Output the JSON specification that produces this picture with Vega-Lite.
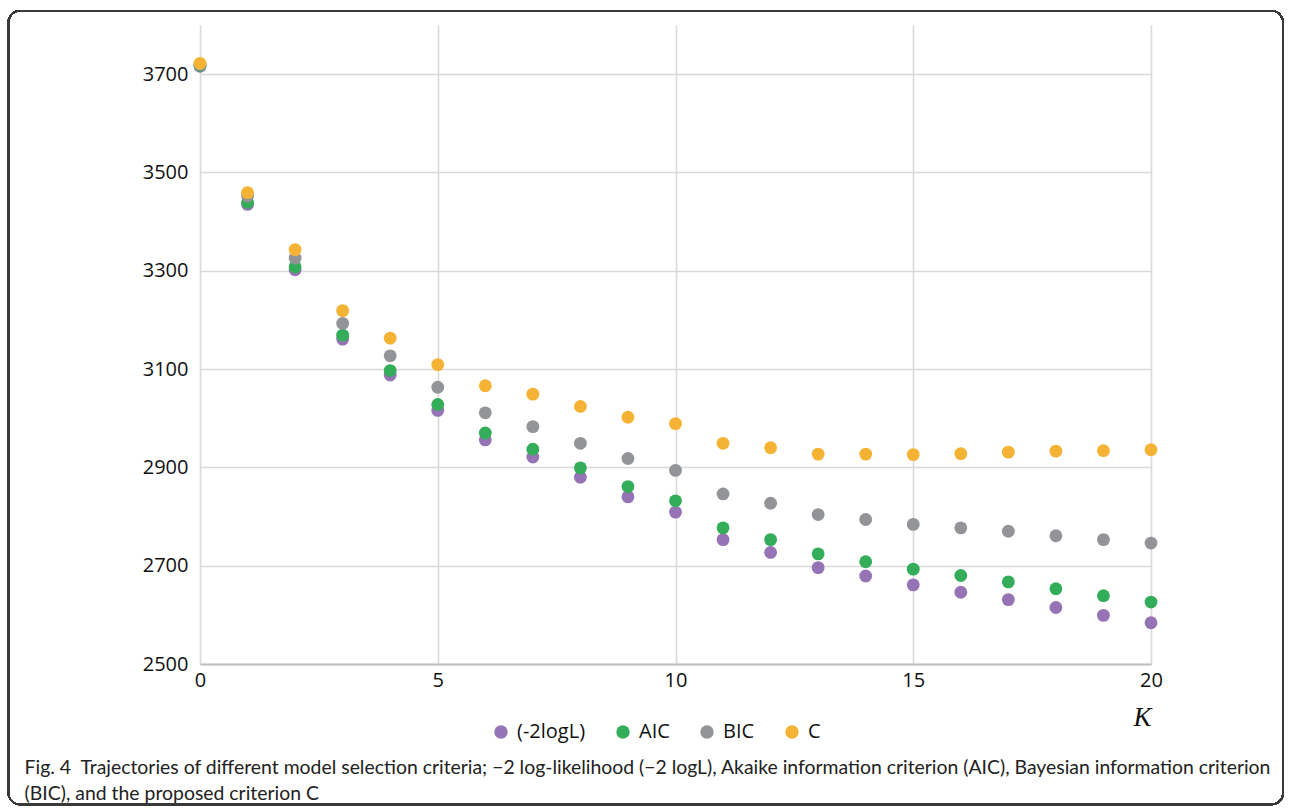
{
  "$schema": "https://vega.github.io/schema/vega-lite/v6.json",
  "width": 951,
  "height": 639,
  "autosize": {"type": "none"},
  "padding": {"left": 200, "top": 25, "right": 140, "bottom": 146},
  "background": "white",
  "config": {"view": {"stroke": null}, "font": "Open Sans"},
  "title": {
    "text": ["Fig. 4\u00a0\u00a0Trajectories of different model selection criteria; −2 log-likelihood (−2 logL), Akaike information criterion (AIC), Bayesian information criterion", "(BIC), and the proposed criterion C"],
    "orient": "bottom",
    "anchor": "start",
    "frame": "bounds",
    "font": "Lato",
    "fontSize": 19.4,
    "fontWeight": "normal",
    "color": "#222222",
    "lineHeight": 25.5,
    "offset": -46,
    "dx": 17
  },
  "data": {"values": [
    {"K":0,"criterion":"(-2logL)","value":3716},{"K":1,"criterion":"(-2logL)","value":3435},{"K":2,"criterion":"(-2logL)","value":3302},{"K":3,"criterion":"(-2logL)","value":3161},{"K":4,"criterion":"(-2logL)","value":3088},{"K":5,"criterion":"(-2logL)","value":3016},{"K":6,"criterion":"(-2logL)","value":2956},{"K":7,"criterion":"(-2logL)","value":2921},{"K":8,"criterion":"(-2logL)","value":2880},{"K":9,"criterion":"(-2logL)","value":2840},{"K":10,"criterion":"(-2logL)","value":2809},{"K":11,"criterion":"(-2logL)","value":2753},{"K":12,"criterion":"(-2logL)","value":2727},{"K":13,"criterion":"(-2logL)","value":2696},{"K":14,"criterion":"(-2logL)","value":2679},{"K":15,"criterion":"(-2logL)","value":2661},{"K":16,"criterion":"(-2logL)","value":2646},{"K":17,"criterion":"(-2logL)","value":2631},{"K":18,"criterion":"(-2logL)","value":2615},{"K":19,"criterion":"(-2logL)","value":2599},{"K":20,"criterion":"(-2logL)","value":2584},
    {"K":0,"criterion":"AIC","value":3718},{"K":1,"criterion":"AIC","value":3439},{"K":2,"criterion":"AIC","value":3308},{"K":3,"criterion":"AIC","value":3169},{"K":4,"criterion":"AIC","value":3097},{"K":5,"criterion":"AIC","value":3028},{"K":6,"criterion":"AIC","value":2970},{"K":7,"criterion":"AIC","value":2937},{"K":8,"criterion":"AIC","value":2899},{"K":9,"criterion":"AIC","value":2861},{"K":10,"criterion":"AIC","value":2832},{"K":11,"criterion":"AIC","value":2777},{"K":12,"criterion":"AIC","value":2753},{"K":13,"criterion":"AIC","value":2724},{"K":14,"criterion":"AIC","value":2708},{"K":15,"criterion":"AIC","value":2693},{"K":16,"criterion":"AIC","value":2680},{"K":17,"criterion":"AIC","value":2667},{"K":18,"criterion":"AIC","value":2653},{"K":19,"criterion":"AIC","value":2639},{"K":20,"criterion":"AIC","value":2626},
    {"K":0,"criterion":"BIC","value":3720},{"K":1,"criterion":"BIC","value":3452},{"K":2,"criterion":"BIC","value":3326},{"K":3,"criterion":"BIC","value":3193},{"K":4,"criterion":"BIC","value":3127},{"K":5,"criterion":"BIC","value":3063},{"K":6,"criterion":"BIC","value":3011},{"K":7,"criterion":"BIC","value":2983},{"K":8,"criterion":"BIC","value":2949},{"K":9,"criterion":"BIC","value":2918},{"K":10,"criterion":"BIC","value":2894},{"K":11,"criterion":"BIC","value":2846},{"K":12,"criterion":"BIC","value":2827},{"K":13,"criterion":"BIC","value":2804},{"K":14,"criterion":"BIC","value":2794},{"K":15,"criterion":"BIC","value":2784},{"K":16,"criterion":"BIC","value":2777},{"K":17,"criterion":"BIC","value":2770},{"K":18,"criterion":"BIC","value":2761},{"K":19,"criterion":"BIC","value":2753},{"K":20,"criterion":"BIC","value":2746},
    {"K":0,"criterion":"C","value":3722},{"K":1,"criterion":"C","value":3459},{"K":2,"criterion":"C","value":3343},{"K":3,"criterion":"C","value":3219},{"K":4,"criterion":"C","value":3163},{"K":5,"criterion":"C","value":3109},{"K":6,"criterion":"C","value":3066},{"K":7,"criterion":"C","value":3049},{"K":8,"criterion":"C","value":3024},{"K":9,"criterion":"C","value":3002},{"K":10,"criterion":"C","value":2989},{"K":11,"criterion":"C","value":2949},{"K":12,"criterion":"C","value":2940},{"K":13,"criterion":"C","value":2927},{"K":14,"criterion":"C","value":2927},{"K":15,"criterion":"C","value":2926},{"K":16,"criterion":"C","value":2928},{"K":17,"criterion":"C","value":2931},{"K":18,"criterion":"C","value":2933},{"K":19,"criterion":"C","value":2934},{"K":20,"criterion":"C","value":2936}
  ]},
  "layer": [
    {
      "mark": {"type": "circle", "size": 165, "opacity": 1},
      "encoding": {
        "x": {"field": "K", "type": "quantitative",
          "scale": {"domain": [0, 20], "nice": false, "zero": false},
          "axis": {"values": [0, 5, 10, 15, 20], "grid": true, "gridColor": "#d9d9d9", "gridWidth": 1.6,
            "ticks": false, "domain": true, "domainColor": "#bfbfbf", "domainWidth": 2,
            "labelFontSize": 20, "labelColor": "#111111", "labelPadding": 6, "labelFlush": false, "labelBound": false, "labelOverlap": false,
            "title": "K", "titleFont": "Liberation Serif", "titleFontStyle": "italic", "titleFontWeight": "normal",
            "titleFontSize": 27, "titleColor": "#111111", "titleAnchor": "end", "titlePadding": 14}},
        "y": {"field": "value", "type": "quantitative",
          "scale": {"domain": [2500, 3800], "nice": false, "zero": false},
          "axis": {"values": [2500, 2700, 2900, 3100, 3300, 3500, 3700], "format": "d", "grid": true, "gridColor": "#d9d9d9", "gridWidth": 1.6,
            "ticks": false, "domain": false, "labelFontSize": 20, "labelColor": "#111111", "labelPadding": 12, "title": null}},
        "color": {"field": "criterion", "type": "nominal",
          "scale": {"domain": ["(-2logL)", "AIC", "BIC", "C"], "range": ["#9673B5", "#34AD5B", "#939497", "#F5B335"]},
          "legend": {"title": null, "orient": "none", "legendX": 291, "legendY": 697, "direction": "horizontal",
            "symbolType": "circle", "symbolSize": 180, "symbolOpacity": 1, "labelFontSize": 20, "labelColor": "#111111",
            "labelOffset": 6, "columnPadding": 27, "padding": 0}}
      }
    },
    {
      "mark": {"type": "rect", "filled": false, "stroke": "#3a3a3a", "strokeWidth": 1.5, "cornerRadius": 12, "clip": false},
      "encoding": {
        "x": {"datum": -4.03, "type": "quantitative", "scale": {"domain": [0, 20], "nice": false, "zero": false}},
        "x2": {"datum": 22.78},
        "y": {"datum": 3829, "type": "quantitative", "scale": {"domain": [2500, 3800], "nice": false, "zero": false}},
        "y2": {"datum": 2214}
      }
    }
  ]
}
